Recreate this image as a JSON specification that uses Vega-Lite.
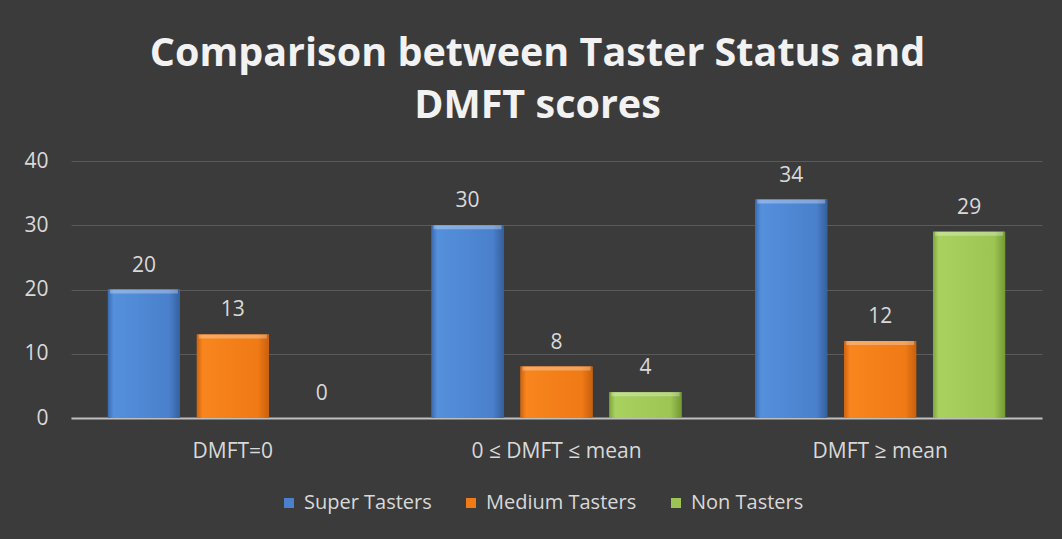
{
  "$schema": "https://vega.github.io/schema/vega-lite/v6.json",
  "width": 971,
  "height": 257,
  "autosize": {"type": "none"},
  "padding": {"left": 71, "top": 161, "right": 20, "bottom": 121},
  "background": "#3b3b3b",
  "title": {
    "text": ["Comparison between Taster Status and", "DMFT scores"],
    "font": "Open Sans",
    "fontSize": 39.5,
    "fontWeight": "bold",
    "color": "#f2f2f2",
    "lineHeight": 52,
    "anchor": "middle",
    "dx": -19,
    "offset": 24
  },
  "config": {
    "view": {"stroke": null},
    "font": "Open Sans"
  },
  "data": {
    "values": [
      {"category": "DMFT=0", "series": "Super Tasters", "value": 20},
      {"category": "DMFT=0", "series": "Medium Tasters", "value": 13},
      {"category": "DMFT=0", "series": "Non Tasters", "value": 0},
      {"category": "0 ≤ DMFT ≤ mean", "series": "Super Tasters", "value": 30},
      {"category": "0 ≤ DMFT ≤ mean", "series": "Medium Tasters", "value": 8},
      {"category": "0 ≤ DMFT ≤ mean", "series": "Non Tasters", "value": 4},
      {"category": "DMFT ≥ mean", "series": "Super Tasters", "value": 34},
      {"category": "DMFT ≥ mean", "series": "Medium Tasters", "value": 12},
      {"category": "DMFT ≥ mean", "series": "Non Tasters", "value": 29}
    ]
  },
  "encoding": {
    "x": {
      "field": "category",
      "type": "nominal",
      "sort": ["DMFT=0", "0 ≤ DMFT ≤ mean", "DMFT ≥ mean"],
      "scale": {"paddingInner": 0.228, "paddingOuter": 0.114},
      "axis": {
        "title": null,
        "labelAngle": 0,
        "labelFontSize": 21,
        "labelColor": "#d9d9d9",
        "labelPadding": 22,
        "ticks": false,
        "domainColor": "#bfbfbf",
        "domainWidth": 2
      }
    },
    "xOffset": {
      "field": "series",
      "type": "nominal",
      "sort": ["Super Tasters", "Medium Tasters", "Non Tasters"],
      "scale": {"paddingInner": 0.191, "paddingOuter": 0}
    },
    "y": {
      "field": "value",
      "type": "quantitative",
      "scale": {"domain": [0, 40]},
      "axis": {
        "title": null,
        "values": [0, 10, 20, 30, 40],
        "labelFontSize": 21,
        "labelColor": "#d9d9d9",
        "labelPadding": 23,
        "ticks": false,
        "domain": false,
        "gridColor": "#5a5a5a",
        "gridWidth": 1
      }
    }
  },
  "layer": [
    {
      "mark": {"type": "bar"},
      "encoding": {
        "color": {
          "field": "series",
          "type": "nominal",
          "sort": ["Super Tasters", "Medium Tasters", "Non Tasters"],
          "scale": {
            "domain": ["Super Tasters", "Medium Tasters", "Non Tasters"],
            "range": ["#4a80cc", "#f07a16", "#9cc553"]
          },
          "legend": {
            "title": null,
            "orient": "none",
            "legendX": 208,
            "legendY": 332,
            "padding": 0,
            "direction": "horizontal",
            "symbolType": "square",
            "symbolSize": 100,
            "symbolStrokeWidth": 0,
            "labelFontSize": 20,
            "labelColor": "#d9d9d9",
            "labelOffset": 5,
            "columnPadding": 29
          }
        }
      }
    },
    {
      "mark": {"type": "bar"},
      "encoding": {
        "fill": {
          "condition": [
            {"test": "datum.series === 'Super Tasters'", "value": {"gradient": "linear", "x1": 0, "x2": 1, "y1": 0, "y2": 0, "stops": [{"offset": 0, "color": "#3a6bb0"}, {"offset": 0.08, "color": "#5590dc"}, {"offset": 0.85, "color": "#4a80cc"}, {"offset": 1, "color": "#35609e"}]}},
            {"test": "datum.series === 'Medium Tasters'", "value": {"gradient": "linear", "x1": 0, "x2": 1, "y1": 0, "y2": 0, "stops": [{"offset": 0, "color": "#d0640e"}, {"offset": 0.08, "color": "#f8851e"}, {"offset": 0.85, "color": "#f07a16"}, {"offset": 1, "color": "#c8600c"}]}}
          ],
          "value": {"gradient": "linear", "x1": 0, "x2": 1, "y1": 0, "y2": 0, "stops": [{"offset": 0, "color": "#7ea83c"}, {"offset": 0.08, "color": "#a8d160"}, {"offset": 0.85, "color": "#9cc553"}, {"offset": 1, "color": "#739a34"}]}
        }
      }
    },
    {
      "transform": [{"filter": "datum.value > 0"}],
      "mark": {"type": "tick", "orient": "horizontal", "thickness": 4, "size": 68, "color": "#ffffff", "opacity": 0.3, "yOffset": 2}
    },
    {
      "mark": {"type": "text", "baseline": "alphabetic", "dy": -18, "fontSize": 21, "color": "#d9d9d9"},
      "encoding": {
        "text": {"field": "value", "type": "quantitative"}
      }
    }
  ]
}
